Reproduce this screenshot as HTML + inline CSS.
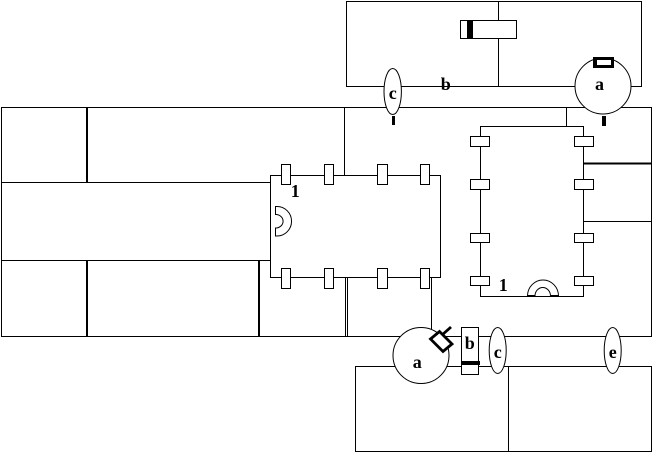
<!DOCTYPE html>
<html>
<head>
<meta charset="utf-8">
<style>
html,body{margin:0;padding:0;background:#fff;width:653px;height:452px;overflow:hidden}
svg{display:block}
text{font-family:"Liberation Serif",serif;font-weight:bold;font-size:18px;text-anchor:middle;fill:#000}
.l{stroke:#000;stroke-width:1;fill:none;shape-rendering:crispEdges}
.t{stroke:#000;stroke-width:2;fill:none;shape-rendering:crispEdges}
.p{stroke:#000;stroke-width:1;fill:#fff;shape-rendering:crispEdges}
.c{stroke:#000;stroke-width:1;fill:#fff}
.k{fill:#000;stroke:none;shape-rendering:crispEdges}
.w{fill:#fff;stroke:none;shape-rendering:crispEdges}
</style>
</head>
<body>
<svg width="653" height="452" viewBox="0 0 653 452" xmlns="http://www.w3.org/2000/svg">
<rect width="653" height="452" fill="#fff"/>

<!-- top box -->
<rect class="l" x="346.5" y="1.5" width="295" height="85"/>
<line class="l" x1="498.5" y1="1" x2="498.5" y2="87"/>
<rect class="p" x="460.5" y="20.5" width="56" height="18"/>
<rect class="k" x="467" y="20" width="6" height="19"/>

<!-- main outline -->
<rect class="l" x="1.5" y="107.5" width="650" height="229"/>
<line class="t" x1="87" y1="107" x2="87" y2="182"/>
<line class="l" x1="1" y1="182.5" x2="271" y2="182.5"/>
<line class="l" x1="1" y1="260.5" x2="271" y2="260.5"/>
<line class="t" x1="87" y1="260" x2="87" y2="336"/>
<line class="t" x1="259" y1="260" x2="259" y2="336"/>
<line class="l" x1="344.5" y1="107" x2="344.5" y2="176"/>
<line class="l" x1="345.5" y1="277" x2="345.5" y2="337"/>
<line class="l" x1="347.5" y1="277" x2="347.5" y2="337"/>
<line class="l" x1="431.5" y1="277" x2="431.5" y2="335"/>
<line class="l" x1="566.5" y1="107" x2="566.5" y2="127"/>
<line class="t" x1="583" y1="163.5" x2="651" y2="163.5"/>
<line class="l" x1="583" y1="221.5" x2="651" y2="221.5"/>

<!-- chip 1 -->
<rect class="l" x="270.5" y="175.5" width="170" height="102"/>
<rect class="p" x="281.5" y="164.5" width="9" height="20"/>
<rect class="p" x="324.5" y="164.5" width="9" height="20"/>
<rect class="p" x="377.5" y="164.5" width="10" height="20"/>
<rect class="p" x="420.5" y="164.5" width="9" height="20"/>
<rect class="p" x="281.5" y="268.5" width="9" height="20"/>
<rect class="p" x="324.5" y="268.5" width="9" height="20"/>
<rect class="p" x="377.5" y="268.5" width="10" height="20"/>
<rect class="p" x="420.5" y="268.5" width="9" height="20"/>
<path d="M275.5 206.5 H277 A14.5 14.7 0 0 1 277 236 H275.5 V228 H276.5 A7.5 6.8 0 0 0 276.5 214.5 H275.5 Z" fill="#fff" stroke="#000" stroke-width="1"/>

<!-- chip 2 -->
<rect class="l" x="480.5" y="126.5" width="103" height="170"/>
<rect class="p" x="470.5" y="136.5" width="19" height="10"/>
<rect class="p" x="470.5" y="179.5" width="19" height="10"/>
<rect class="p" x="470.5" y="233.5" width="19" height="9"/>
<rect class="p" x="470.5" y="276.5" width="19" height="9"/>
<rect class="p" x="574.5" y="136.5" width="19" height="10"/>
<rect class="p" x="574.5" y="179.5" width="19" height="10"/>
<rect class="p" x="574.5" y="233.5" width="19" height="9"/>
<rect class="p" x="574.5" y="276.5" width="19" height="9"/>
<path d="M527.5 296 A15.5 16 0 0 1 558.5 296 H550.5 A7.7 8.5 0 0 0 535 296 Z" fill="#fff" stroke="#000" stroke-width="1"/>
<rect class="k" x="527" y="295" width="8" height="2"/>
<rect class="k" x="551" y="295" width="8" height="2"/>

<!-- bottom boxes -->
<rect class="l" x="355.5" y="366.5" width="296" height="85"/>
<line class="l" x1="508.5" y1="366" x2="508.5" y2="452"/>

<!-- top circle a -->
<circle class="c" cx="603" cy="86" r="28"/>
<rect class="k" x="593" y="57" width="21" height="11"/>
<rect class="w" x="597" y="60" width="14" height="5"/>
<rect class="k" x="602" y="116" width="4" height="10"/>

<!-- top c -->
<ellipse class="c" cx="392.7" cy="91.5" rx="8.7" ry="23"/>
<rect class="k" x="392" y="116" width="3" height="9"/>

<!-- bottom circle a -->
<circle class="c" cx="421" cy="355.5" r="28"/>
<polygon points="430.5,339 439.5,331.5 452,344 443,351.5" fill="#fff" stroke="#000" stroke-width="2.8"/>
<line x1="442" y1="335" x2="451" y2="327" stroke="#000" stroke-width="2.8"/>

<!-- bottom b -->
<rect class="p" x="461.5" y="327.5" width="17" height="47"/>
<rect class="k" x="461" y="361" width="19" height="4"/>

<!-- bottom c, e -->
<ellipse class="c" cx="497.7" cy="350.5" rx="8.5" ry="23"/>
<ellipse class="c" cx="612.7" cy="350.5" rx="8.5" ry="23"/>

<!-- labels -->
<text x="599.5" y="90">a</text>
<text x="445.7" y="90">b</text>
<text x="392.7" y="99">c</text>
<text x="295.3" y="197">1</text>
<text x="503.3" y="291">1</text>
<text x="417.3" y="368">a</text>
<text x="469.7" y="349">b</text>
<text x="497.7" y="358">c</text>
<text x="612.7" y="358">e</text>
</svg>
</body>
</html>
